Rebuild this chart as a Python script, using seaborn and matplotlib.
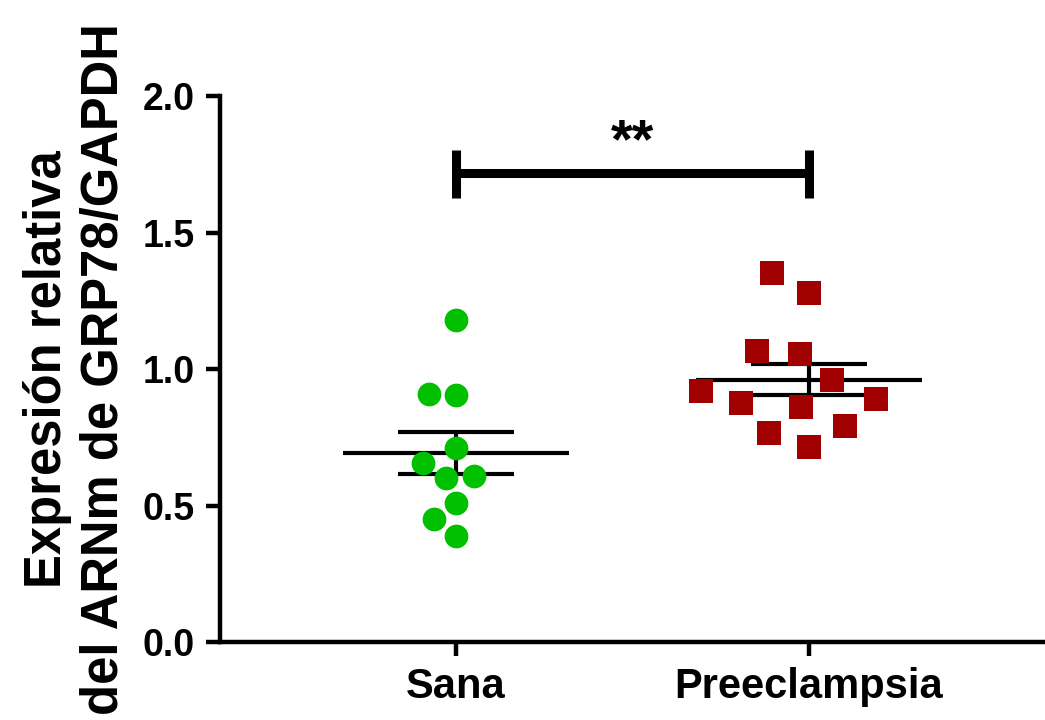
import numpy as np
import pandas as pd
import seaborn as sns
import matplotlib.pyplot as plt
from matplotlib.markers import MarkerStyle
from matplotlib.transforms import Affine2D

# values
groups = ['Sana', 'Preeclampsia']
sana = [1.18, 0.91, 0.905, 0.71, 0.655, 0.61, 0.60, 0.51, 0.45, 0.39]
preeclampsia = [1.35, 1.28, 1.065, 1.055, 0.96, 0.92, 0.875, 0.89, 0.86, 0.79, 0.765, 0.715]
colors = ['#00C000', '#A00000']
yticks = [0.0, 0.5, 1.0, 1.5, 2.0]
signif = '**'

sns.set_style('ticks')
plt.rcParams['font.family'] = ['Liberation Sans', 'DejaVu Sans']
plt.rcParams['font.weight'] = 'bold'
for k in ['text.color', 'axes.labelcolor', 'xtick.color', 'ytick.color', 'axes.edgecolor']:
    plt.rcParams[k] = 'black'

df = pd.DataFrame({'grupo': ['Sana'] * len(sana) + ['Preeclampsia'] * len(preeclampsia),
                   'valor': sana + preeclampsia})

fig = plt.figure(figsize=(10.45, 7.2), dpi=100)
ax = fig.add_axes([0.2105, 0.1083, 0.7895, 0.7583])

# the swarm spacing follows `size`; the drawn glyph is scaled down so the
# points sit on a wider grid like the GraphPad original
swarm = [(MarkerStyle('o', transform=Affine2D().scale(0.9)), 19),
         (MarkerStyle('s', transform=Affine2D().scale(0.6)), 29)]
for g, c, (mk, sz) in zip(groups, colors, swarm):
    sns.swarmplot(data=df[df['grupo'] == g], x='grupo', y='valor', order=groups,
                  color=c, marker=mk, size=sz, linewidth=0, ax=ax, zorder=4)

# mean +- SEM
stats = df.groupby('grupo')['valor'].agg(['mean', 'sem']).reindex(groups)
for i, (mu, se) in enumerate(zip(stats['mean'], stats['sem'])):
    ax.hlines(mu, i - 0.32, i + 0.32, color='black', lw=3, zorder=3)
    ax.errorbar(i, mu, yerr=se, fmt='none', ecolor='black', elinewidth=3,
                capsize=42, capthick=3, zorder=3)

# significance bracket
ax.plot([0, 1], [1.718, 1.718], color='black', lw=6.5, solid_capstyle='butt')
ax.vlines([0, 1], 1.626, 1.802, color='black', lw=6.5)
ax.text(0.5, 1.775, signif, ha='center', va='baseline', fontsize=40, fontweight='bold')

ax.set_xlim(-0.67, 1.67)
ax.set_ylim(0, 2.0)
ax.set_yticks(yticks)
ax.set_yticklabels([f'{t:.1f}' for t in yticks])
ax.set_xlabel('')
ax.set_ylabel('Expresión relativa\ndel ARNm de GRP78/GAPDH', fontsize=36.5,
              fontweight='bold', labelpad=10)

for s in ['left', 'bottom']:
    ax.spines[s].set_linewidth(3.2)
sns.despine(ax=ax)
ax.tick_params(axis='y', labelsize=27, length=10, width=3.2, pad=8)
ax.tick_params(axis='x', labelsize=30, length=10, width=3.2, pad=8)

fig.savefig('out.png', dpi=100)
